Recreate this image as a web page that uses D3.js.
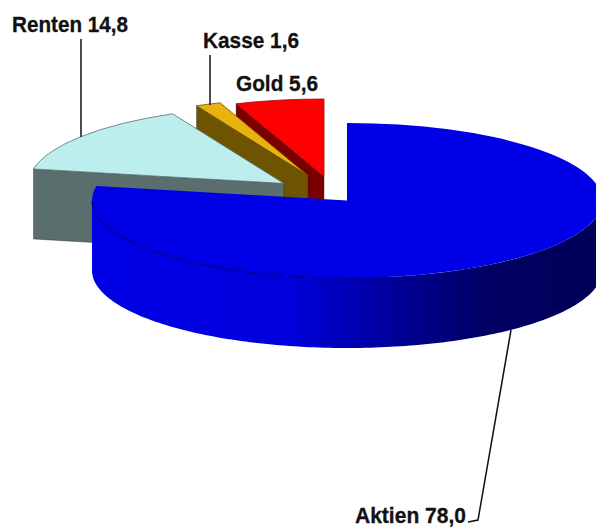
<!DOCTYPE html>
<html>
<head>
<meta charset="utf-8">
<script src="https://cdn.jsdelivr.net/npm/d3@7"></script>
<style>
  body { margin: 0; background: #fff; }
  svg { display: block; }
  text { font-family: "Liberation Sans", Arial, sans-serif; font-weight: bold; fill: #111; stroke: #111; stroke-width: 0.3; }
</style>
</head>
<body>
<div id="chart"></div>
<script>
// data
const categories = ["Aktien", "Renten", "Kasse", "Gold"];
const values = [78.0, 14.8, 1.6, 5.6];

// styles, one per category
const topColors = ["#0000e6", "#bdeeee", "#e8b310", "#ff0000"];
const sideColors = ["url(#wallBlue)", "#5a6e6e", "#6e5400", "#7a0000"];
const edgeColors = ["#00008a", "#5a7070", "#6e5400", "#a00000"];

// layout
const width = 596;
const height = 528;
const cx = 347;
const cy = 200.5;
const radius = 255;
const tilt = 77.5 / 255;
const depth = 70;
const explode = [[0, 0], [-63, -17], [-39, -25], [-23, -24]];
const labelBox = [[355, 523, 111], [12, 32, 116], [203, 48, 96], [236, 91, 82]];

const svg = d3.select("#chart")
    .append("svg")
    .attr("width", width)
    .attr("height", height);

// Front wall shading of the big slice, in the slice's own coordinates
const grad = svg.append("defs").append("linearGradient")
    .attr("id", "wallBlue")
    .attr("gradientUnits", "userSpaceOnUse")
    .attr("x1", -radius).attr("x2", radius).attr("y1", 0).attr("y2", 0);
[[0, "#0000e6"], [0.38, "#0000dc"], [0.5, "#0000b8"], [0.62, "#000090"], [0.78, "#000062"], [1, "#000058"]]
    .forEach(([o, c]) => grad.append("stop").attr("offset", o).attr("stop-color", c));

const slices = d3.pie().sort(null).value(d => d)(values);
const arc = d3.arc().innerRadius(0).outerRadius(radius);

// angle is clockwise from 12 o'clock
const px = a => radius * Math.sin(a);
const py = a => -radius * tilt * Math.cos(a);

const wallArea = d3.area()
    .x(a => px(a))
    .y0(a => py(a))
    .y1(a => py(a) + depth);

// back to front, so the big slice covers the others
const drawOrder = [3, 2, 1, 0];

drawOrder.forEach(i => {
    const s = slices[i];
    const g = svg.append("g")
        .attr("transform", `translate(${cx + explode[i][0]},${cy + explode[i][1]})`);

    if (i === 0) {
        // outer rounded wall
        g.append("path")
            .attr("d", wallArea(d3.range(Math.PI / 2, 1.5 * Math.PI + 0.01, 0.02)))
            .attr("fill", sideColors[i]);
    } else {
        // cut face from the rim to the centre
        const corner = [px(s.startAngle), py(s.startAngle)];
        g.append("path")
            .attr("d", `M${corner}L0,0V${depth}L${corner[0]},${corner[1] + depth}Z`)
            .attr("fill", sideColors[i])
            .attr("stroke", "#222")
            .attr("stroke-width", 0.4);
    }

    g.append("path")
        .attr("transform", `scale(1,${tilt})`)
        .attr("d", arc(s))
        .attr("fill", topColors[i])
        .attr("stroke", i === 0 ? "none" : edgeColors[i])
        .attr("stroke-width", 0.8)
        .attr("vector-effect", "non-scaling-stroke");

    if (i === 0) {
        // dark seam between top and wall on the lit side
        g.append("path")
            .attr("d", d3.line().x(px).y(py)(d3.range(Math.PI * 0.95, 1.5 * Math.PI + 0.01, 0.02)))
            .attr("fill", "none")
            .attr("stroke", edgeColors[i])
            .attr("stroke-width", 1.2);
    }
});

// faint line showing through the blue top
svg.append("line")
    .attr("x1", 323.5).attr("x2", 323.5)
    .attr("y1", 201).attr("y2", 234)
    .attr("stroke", "#0000c4");

// Leader lines
const leaders = [
    [[511, 330], [478, 520], [468, 522]],
    [[81, 39], [81, 137]],
    [[210, 55], [210, 105]]
];
leaders.forEach(pts => {
    svg.append("path")
        .attr("d", d3.line()(pts))
        .attr("fill", "none")
        .attr("stroke", "#111")
        .attr("stroke-width", 1.5);
});

// Labels
categories.forEach((name, i) => {
    svg.append("text")
        .attr("x", labelBox[i][0])
        .attr("y", labelBox[i][1])
        .attr("font-size", 22)
        .attr("textLength", labelBox[i][2])
        .attr("lengthAdjust", "spacingAndGlyphs")
        .text(`${name} ${values[i].toFixed(1).replace(".", ",")}`);
});
</script>
</body>
</html>
